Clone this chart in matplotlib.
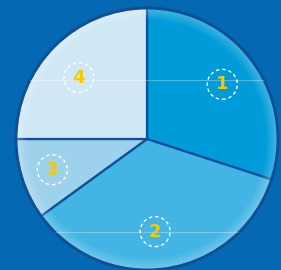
import numpy as np
import matplotlib.pyplot as plt
from matplotlib.patches import Circle

labels = ['1', '2', '3', '4']
values = [30, 35, 10, 25]
colors = ['#009bd9', '#42b5e4', '#9ed1ec', '#d0e7f6']
label_r = [0.71, 0.71, 0.76, 0.70]
label_shift = [0, -4, 0, 3]  # small angular nudges (deg)

bg = '#0568b2'
edge = '#0f4f95'
cx, cy, R = 147, 131, 131

fig = plt.figure(figsize=(2.81, 2.70), dpi=100)
fig.patch.set_facecolor(bg)
ax = fig.add_axes([0, 0, 1, 1])
ax.set_facecolor(bg)

wedges, _ = ax.pie(values, startangle=90, counterclock=False, colors=colors,
                   center=(cx, cy), radius=R, frame=True,
                   wedgeprops=dict(edgecolor=edge, linewidth=1.6))
ax.set_xlim(0, 281)
ax.set_ylim(0, 270)
ax.axis('off')

# soft light rim inside the circle
for i in range(14):
    ring = Circle((cx, cy), R - i * 0.9, fill=False, edgecolor='white',
                  linewidth=1.2, alpha=0.16 * (1 - i / 14))
    ax.add_patch(ring)

# faint glossy lines
clip = Circle((cx, cy), R, transform=ax.transData)
for yl in [270 - 80, 270 - 232]:
    ln, = ax.plot([0, 281], [yl, yl], color='white', lw=0.8, alpha=0.3)
    ln.set_clip_path(clip)

# outer border
ax.add_patch(Circle((cx, cy), R, fill=False, edgecolor=edge, linewidth=2))

# labels with dashed circles
for w, lab, r, s in zip(wedges, labels, label_r, label_shift):
    ang = np.deg2rad((w.theta1 + w.theta2) / 2 + s)
    x = cx + r * R * np.cos(ang)
    y = cy + r * R * np.sin(ang)
    ax.add_patch(Circle((x, y), 15, fill=False, edgecolor='white',
                        linestyle=(0, (2.5, 2)), linewidth=1))
    ax.text(x, y, lab, ha='center', va='center', color='#f6c900',
            fontsize=13, fontweight='bold', family='DejaVu Sans')

fig.savefig('out.png', dpi=100, facecolor=bg)
